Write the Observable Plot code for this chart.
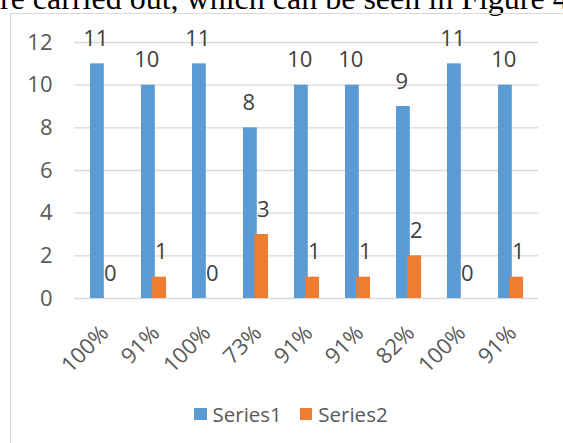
<!DOCTYPE html>
<html>
<head>
<meta charset="utf-8">
<script src="https://cdn.jsdelivr.net/npm/d3@7"></script>
<script src="https://cdn.jsdelivr.net/npm/@observablehq/plot@0.6"></script>
<style>
  html, body { margin: 0; padding: 0; background: #fff; }
  body { width: 563px; height: 443px; overflow: hidden; position: relative; }
  #doctext { position: absolute; left: 0; top: -18px; font: 32px "Liberation Serif", "Times New Roman", serif; line-height: 32px; white-space: nowrap; color: #000; }
  #frame { position: absolute; left: 10px; top: 13px; width: 700px; height: 600px; border: 1px solid #d9d9d9; box-sizing: border-box; }
  #chart { position: absolute; left: 0; top: 0; }
  #legend { position: absolute; top: 400px; left: 194px; display: flex; align-items: center; font: 20.5px "Open Sans", sans-serif; color: #595959; }
  .item { display: flex; align-items: center; margin-right: 18px; }
  .sw { width: 12.5px; height: 12.5px; margin-right: 6px; }
</style>
</head>
<body>
<div id="doctext"></div>
<div id="frame"></div>
<div id="chart"></div>
<div id="legend"></div>
<script>
const docText = "re carried out, which can be seen in Figure 4";
const categories = ["100%", "91%", "100%", "73%", "91%", "91%", "82%", "100%", "91%"];
const series1 = [11, 10, 11, 8, 10, 10, 9, 11, 10];
const series2 = [0, 1, 0, 3, 1, 1, 2, 0, 1];
const seriesNames = ["Series1", "Series2"];
const seriesColors = ["#5B9BD5", "#ED7D31"];
const yTicks = [0, 2, 4, 6, 8, 10, 12];

document.getElementById("doctext").textContent = docText;

const rows = categories.map((c, i) => ({i, c, s1: series1[i], s2: series2[i]}));
const idx = rows.map(d => d.i);

const bandW = (538 - 74) / categories.length;
const barW = 11.2, gap = 3.2;
const innerIn = bandW / 2 - gap / 2;
const outerIn = bandW / 2 - gap / 2 - barW;
const off = gap / 2 + barW / 2;

const chart = Plot.plot({
  width: 563,
  height: 443,
  marginLeft: 74,
  marginRight: 25,
  marginTop: 42,
  marginBottom: 145,
  style: {fontFamily: "'Open Sans', sans-serif", fontSize: "22px", color: "#595959", background: "transparent", overflow: "visible"},
  x: {type: "band", domain: idx, padding: 0},
  y: {domain: [0, 12]},
  marks: [
    Plot.gridY(yTicks, {stroke: "#d9d9d9", strokeOpacity: 1, strokeWidth: 1.3}),
    Plot.axisY({ticks: yTicks, tickSize: 0, tickPadding: 22, label: null}),
    Plot.axisX({tickRotate: -45, tickSize: 0, tickPadding: 31, dx: 2, label: null, tickFormat: i => categories[i]}),
    Plot.barY(rows, {x: "i", y: "s1", fill: seriesColors[0], insetLeft: outerIn, insetRight: innerIn}),
    Plot.barY(rows, {x: "i", y: "s2", fill: seriesColors[1], insetLeft: innerIn, insetRight: outerIn}),
    Plot.text(rows, {x: "i", y: "s1", text: d => String(d.s1), dx: -off, dy: -25, fill: "#404040"}),
    Plot.text(rows, {x: "i", y: "s2", text: d => String(d.s2), dx: off, dy: -25, fill: "#404040"})
  ]
});
document.getElementById("chart").appendChild(chart);

const legend = document.getElementById("legend");
seriesNames.forEach((name, k) => {
  const item = document.createElement("div");
  item.className = "item";
  const sw = document.createElement("div");
  sw.className = "sw";
  sw.style.background = seriesColors[k];
  const t = document.createElement("span");
  t.textContent = name;
  item.appendChild(sw);
  item.appendChild(t);
  legend.appendChild(item);
});
</script>
</body>
</html>
